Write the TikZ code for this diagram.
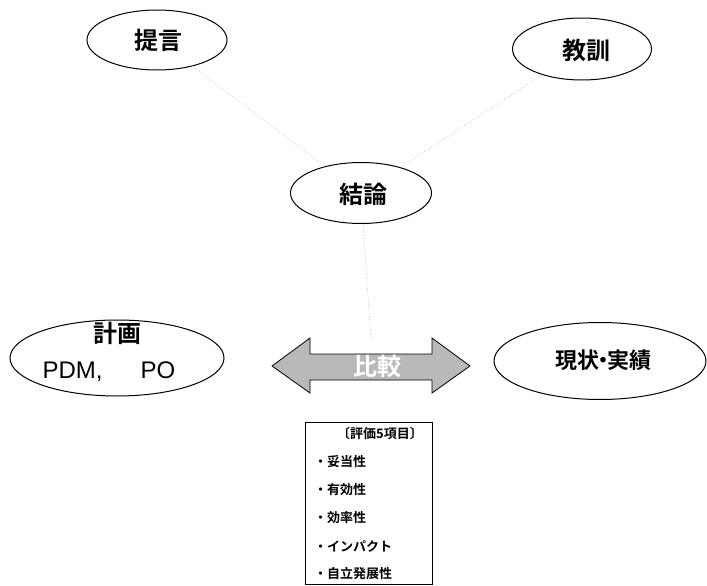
\documentclass[tikz,border=0pt]{standalone}
\usepackage{fontspec}
\newfontfamily\jp{Noto Sans CJK JP}[BoldFont={* Bold}]
\newfontfamily\latin{Liberation Sans}
\usetikzlibrary{shapes.geometric}
\begin{document}
\begin{tikzpicture}[x=1pt,y=-1pt,
  oval/.style={draw=black, line width=1pt, ellipse, inner sep=0pt},
  big/.style={font=\jp\bfseries\fontsize{24}{26}\selectfont},
  small/.style={font=\jp\bfseries\fontsize{13}{14}\selectfont, inner sep=0pt},
  faint/.style={draw=gray!45, dotted, line width=0.8pt}]
\useasboundingbox (0,0) rectangle (707,586);
\node[oval, minimum width=140pt, minimum height=60pt] (teigen) at (157,40) {};
\node[big] at (158,40) {提言};
\node[oval, minimum width=139pt, minimum height=62pt] (kyokun) at (582,49) {};
\node[big] at (586,50) {教訓};
\node[oval, minimum width=141pt, minimum height=61pt] (ketsuron) at (361,193) {};
\node[big] at (363,194) {結論};
\node[oval, minimum width=214pt, minimum height=76pt] (keikaku) at (117,358) {};
\node[big] at (117,333) {計画};
\node[font=\latin\fontsize{24}{26}\selectfont] at (109,372) {PDM,\hspace{38pt}PO};
\node[oval, minimum width=212pt, minimum height=77pt] (genjo) at (600,361) {};
\node[font=\jp\bfseries\fontsize{22}{24}\selectfont] at (603,360) {現状\hspace{-7pt}・\hspace{-7pt}実績};
% double arrow
\draw[line width=0.8pt, fill=gray!55] (272,366) -- (310,338) -- (310,354) -- (432,354) -- (432,338)
  -- (470,366) -- (432,393) -- (432,380) -- (310,380) -- (310,393) -- cycle;
\node[font=\jp\bfseries\fontsize{24}{26}\selectfont, text=white] (hikaku) at (377,366) {比較};
\coordinate (arrtop) at (371,340);
% connectors
\draw[faint] (teigen) -- (ketsuron);
\draw[faint] (kyokun) -- (ketsuron);
\draw[faint] (ketsuron) -- (arrtop);
% box
\draw[line width=0.8pt] (305,422) rectangle (432,584);
\node[small] at (380,434) {〔評価5項目〕};
\node[small, anchor=west] at (314,462) {・妥当性};
\node[small, anchor=west] at (314,490) {・有効性};
\node[small, anchor=west] at (314,518) {・効率性};
\node[small, anchor=west] at (314,546) {・インパクト};
\node[small, anchor=west] at (314,574) {・自立発展性};
\end{tikzpicture}
\end{document}
